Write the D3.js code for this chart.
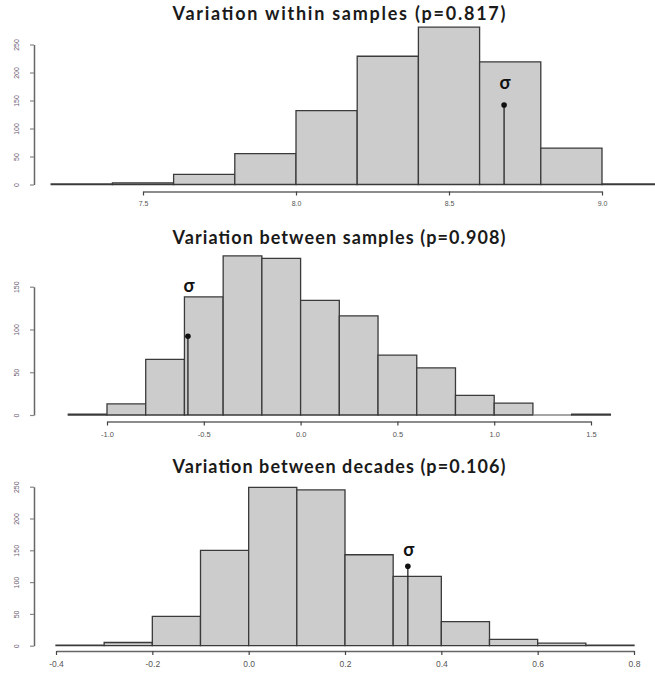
<!DOCTYPE html>
<html><head><meta charset="utf-8">
<script src="https://cdn.jsdelivr.net/npm/d3@7"></script>
<style>
body{margin:0;background:#fff;}
svg{display:block;}
</style></head>
<body>
<svg id="c" width="655" height="676"></svg>
<script>
// ---- data ----
const titles = ["Variation within samples (p=0.817)", "Variation between samples (p=0.908)", "Variation between decades (p=0.106)"];
const edges1 = [7.2, 7.4, 7.6, 7.8, 8.0, 8.2, 8.4, 8.6, 8.8, 9.0, 9.2];
const counts1 = [1, 3, 18, 55, 132, 229, 281, 219, 65, 1];
const edges2 = [-1.2, -1.0, -0.8, -0.6, -0.4, -0.2, 0.0, 0.2, 0.4, 0.6, 0.8, 1.0, 1.2, 1.4, 1.6];
const counts2 = [1, 13, 65, 138, 186, 183, 134, 116, 70, 55, 23, 14, 0, 1];
const edges3 = [-0.4, -0.3, -0.2, -0.1, 0.0, 0.1, 0.2, 0.3, 0.4, 0.5, 0.6, 0.7, 0.8];
const counts3 = [1, 5, 46, 150, 249, 245, 143, 109, 38, 10, 4, 1];
const xTicks1 = [7.5, 8.0, 8.5, 9.0];
const xTickLabels1 = ["7.5", "8.0", "8.5", "9.0"];
const xTicks2 = [-1.0, -0.5, 0.0, 0.5, 1.0, 1.5];
const xTickLabels2 = ["-1.0", "-0.5", "0.0", "0.5", "1.0", "1.5"];
const xTicks3 = [-0.4, -0.2, 0.0, 0.2, 0.4, 0.6, 0.8];
const xTickLabels3 = ["-0.4", "-0.2", "0.0", "0.2", "0.4", "0.6", "0.8"];
const yTicks1 = [0, 50, 100, 150, 200, 250];
const yTicks2 = [0, 50, 100, 150];
const yTicks3 = [0, 50, 100, 150, 200, 250];
const sigmaX = [8.68, -0.582, 0.3305];
const sigmaY = [142, 92, 125];

// ---- layout (positions only) ----
const panels = [
  {edges: edges1, counts: counts1, xt: xTicks1, xl: xTickLabels1, yt: yTicks1,
   xd: [7.5, 9.0], xr: [143, 602], yd: [0, 250], yr: [184.5, 44.5],
   axisY: 191.5, titleY: 20, xfs: 7, sigOff: 16},
  {edges: edges2, counts: counts2, xt: xTicks2, xl: xTickLabels2, yt: yTicks2,
   xd: [-1.0, 1.5], xr: [107, 591], yd: [0, 150], yr: [415, 286.7],
   axisY: 421.5, titleY: 244, xfs: 7.5, sigOff: 44},
  {edges: edges3, counts: counts3, xt: xTicks3, xl: xTickLabels3, yt: yTicks3,
   xd: [-0.4, 0.8], xr: [56, 634], yd: [0, 250], yr: [645.7, 486.7],
   axisY: 651, titleY: 473, xfs: 8.5, sigOff: 10}
];

const svg = d3.select("#c");

panels.forEach((p, i) => {
  const x = d3.scaleLinear().domain(p.xd).range(p.xr);
  const y = d3.scaleLinear().domain(p.yd).range(p.yr);
  const g = svg.append("g");

  // bars (paths so zero-count bins still show as a flat line)
  const bins = p.counts.map((c, j) => ({x0: p.edges[j], x1: p.edges[j + 1], c}));
  g.selectAll("path.bar").data(bins).join("path")
    .attr("class", "bar")
    .attr("d", d => {
      const a = x(d.x0), b = x(d.x1), t = y(d.c), z = y(0);
      return `M${a},${z}V${t}H${b}V${z}Z`;
    })
    .attr("fill", "#cccccc")
    .attr("stroke", d => d.c === 0 ? "#888" : "#3a3a3a")
    .attr("stroke-width", 1.3);

  // x axis
  const xa = d3.axisBottom(x).tickValues(p.xt).tickFormat((d, k) => p.xl[k])
    .tickSize(4).tickSizeOuter(0);
  const gx = g.append("g").attr("transform", `translate(0,${p.axisY})`).call(xa);
  gx.select(".domain").attr("stroke", "#666").attr("stroke-width", 1.3);
  gx.selectAll(".tick line").attr("stroke", "#444").attr("stroke-width", 1.2);
  gx.selectAll(".tick text").attr("fill", "#555").attr("font-family", "Liberation Sans, Arial, sans-serif")
    .attr("font-size", p.xfs).attr("dy", "1.1em").attr("y", 7);

  // y axis
  const ya = d3.axisLeft(y).tickValues(p.yt).tickFormat(d3.format("d"))
    .tickSize(4).tickSizeOuter(0);
  const gy = g.append("g").attr("transform", `translate(34,0)`).call(ya);
  gy.select(".domain").attr("stroke", "#666").attr("stroke-width", 1.5);
  gy.selectAll(".tick line").attr("stroke", "#888").attr("stroke-width", 1.2);
  gy.selectAll(".tick text").attr("fill", "#6a5a70").attr("font-family", "Liberation Sans, Arial, sans-serif")
    .attr("font-size", 7).attr("x", null).attr("dy", null)
    .attr("text-anchor", "middle")
    .attr("transform", "translate(-17,0) rotate(-90)")
    .attr("y", 0).attr("dy", "0.35em");

  // sigma marker
  const sx = x(sigmaX[i]), sy = y(sigmaY[i]);
  g.append("line").attr("x1", sx).attr("x2", sx).attr("y1", sy).attr("y2", y(0))
    .attr("stroke", "#222").attr("stroke-width", 1.3);
  g.append("circle").attr("cx", sx).attr("cy", sy).attr("r", 2.8).attr("fill", "#111");
  g.append("text").attr("x", sx + 1).attr("y", sy - p.sigOff)
    .attr("text-anchor", "middle").attr("font-family", "Lato, Open Sans, sans-serif")
    .attr("font-weight", "bold").attr("font-size", 18).attr("fill", "#111").text("σ");

  // title
  svg.append("text").attr("x", 339).attr("y", p.titleY)
    .attr("text-anchor", "middle").attr("font-family", "Lato, Open Sans, sans-serif")
    .attr("font-weight", "bold").attr("font-size", 18).attr("fill", "#1a1a1a")
    .attr("textLength", 333).attr("lengthAdjust", "spacing")
    .text(titles[i]);
});
</script>
</body></html>
